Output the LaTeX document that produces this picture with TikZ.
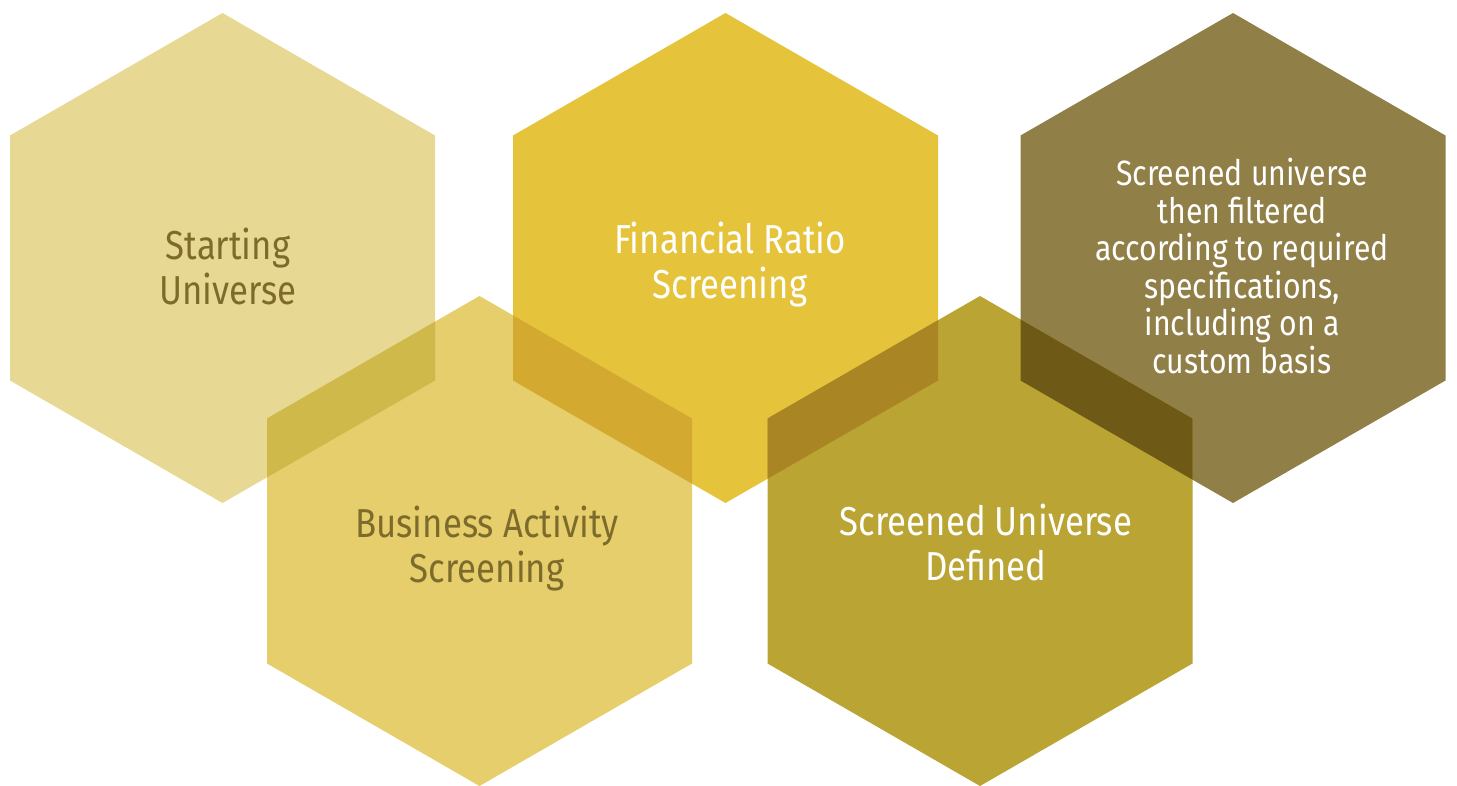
\documentclass[tikz,border=0pt]{standalone}
\usepackage{fontspec}
\setmainfont[FakeStretch=0.86]{Fira Sans}

\definecolor{sandA}{HTML}{E7D893}
\definecolor{goldA}{HTML}{E5C33A}
\definecolor{oliveA}{HTML}{917F48}
\definecolor{sandB}{HTML}{E5CE6B}
\definecolor{goldB}{HTML}{BAA434}
\definecolor{mixAB}{HTML}{CFB94B}
\definecolor{mixGB}{HTML}{D4A92F}
\definecolor{mixGG}{HTML}{A98623}
\definecolor{mixOG}{HTML}{6E5917}
\definecolor{labeldark}{HTML}{7D6B2C}

% hexagon with pointy top, centre (#1,#2), in pixel units
\newcommand{\hexat}[2]{(#1,#2-245) -- (#1+212.5,#2-122.5) -- (#1+212.5,#2+122.5)
  -- (#1,#2+245) -- (#1-212.5,#2+122.5) -- (#1-212.5,#2-122.5) -- cycle}

\begin{document}
\begin{tikzpicture}[x=0.02cm,y=-0.02cm,
    steptext/.style={align=center,font=\fontsize{23}{25.6}\selectfont},
    notetext/.style={align=center,font=\fontsize{20}{21.4}\selectfont}]
  \useasboundingbox (0,0) rectangle (1457,785);
  % Hexagons
  \path[fill=sandA] \hexat{222.5}{258};
  \path[fill=goldA] \hexat{725.5}{258};
  \path[fill=oliveA] \hexat{1233}{258};
  \path[fill=sandB] \hexat{479.5}{541};
  \path[fill=goldB] \hexat{980}{541};
  % Overlaps
  \begin{scope}
    \clip \hexat{222.5}{258};
    \path[fill=mixAB] \hexat{479.5}{541};
  \end{scope}
  \begin{scope}
    \clip \hexat{725.5}{258};
    \path[fill=mixGB] \hexat{479.5}{541};
    \path[fill=mixGG] \hexat{980}{541};
  \end{scope}
  \begin{scope}
    \clip \hexat{1233}{258};
    \path[fill=mixOG] \hexat{980}{541};
  \end{scope}
  % Labels
  \node[steptext,text=labeldark] (start) at (228,266) {Starting\\Universe};
  \node[steptext,text=white] (ratio) at (730,265) {Financial Ratio\\Screening};
  \node[notetext,text=white] (custom) at (1242,266)
    {Screened universe\\then filtered\\according to required\\specifications,\\including on a\\custom basis};
  \node[steptext,text=labeldark] (activity) at (487,549) {Business Activity\\Screening};
  \node[steptext,text=white] (defined) at (986,542) {Screened Universe\\Defined};
\end{tikzpicture}
\end{document}
